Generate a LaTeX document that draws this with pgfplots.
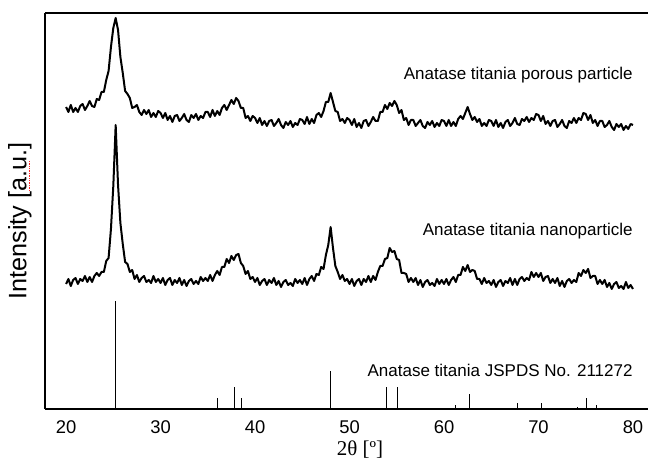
\documentclass[border=0pt]{standalone}
\usepackage{pgfplots}
\pgfplotsset{compat=1.18}
\usepackage{fontspec}
\setmainfont{Liberation Sans}
\newfontfamily\seriffont{Liberation Serif}
\begin{document}
\begin{tikzpicture}
\begin{axis}[name=ax, scale only axis, width=301.5pt, height=198pt,
  xmin=17.77, xmax=81.59, ymin=0, ymax=396,
  axis x line=box, axis y line=left,
  axis line style={-, line width=0.7pt, black},
  xtick={20,30,...,80}, ytick=\empty,
  major tick length=0pt, xtick style={draw=none},
  tick label style={font=\fontsize{9.2}{10}\selectfont},
  /pgf/number format/assume math mode=true,
  xticklabel style={yshift=-2.5pt},
  xlabel={\seriffont 2θ [º]},
  xlabel style={at={(axis cs:51.1,0)}, anchor=center, yshift=-20.5pt, font=\fontsize{10.5}{12}\selectfont},
  ylabel={Intensity [\rlap{\raisebox{-1.8pt}{\textcolor{red!85}{\leaders\hbox to 1.2pt{\hss\rule{0.7pt}{0.6pt}\hss}\hskip 16pt}}}a.u.]},
  ylabel style={at={(axis cs:15.12,188)}, anchor=center, font=\fontsize{12.6}{14}\selectfont},
  clip=false]
\addplot[black, line width=1pt, line join=round] coordinates {
(20,302)(20.25,297)(20.5,304)(20.75,297)(21,301)(21.25,297)(21.5,303)(21.75,305)(22,299)(22.25,303)
(22.5,308)(22.75,303)(23,302)(23.25,310)(23.5,309)(23.75,317)(24,317)(24.25,329)(24.5,338)(24.75,362)
(25,381)(25.25,391)(25.5,379)(25.75,352)(26,336)(26.25,318)(26.5,315)(26.75,311)(27,301)(27.25,302)
(27.5,304)(27.75,297)(28,294)(28.25,299)(28.5,295)(28.75,299)(29,292)(29.25,296)(29.5,292)(29.75,298)
(30,296)(30.25,291)(30.5,296)(30.75,289)(31,293)(31.25,287)(31.5,293)(31.75,294)(32,288)(32.25,291)
(32.5,295)(32.75,289)(33,287)(33.25,294)(33.5,291)(33.75,295)(34,289)(34.25,293)(34.5,291)(34.75,297)
(35,297)(35.25,292)(35.5,299)(35.75,293)(36,298)(36.25,294)(36.5,301)(36.75,304)(37,299)(37.25,304)
(37.5,309)(37.75,305)(38,311)(38.25,308)(38.5,301)(38.75,301)(39,291)(39.25,293)(39.5,288)(39.75,293)
(40,291)(40.25,286)(40.5,291)(40.75,284)(41,288)(41.25,283)(41.5,288)(41.75,289)(42,283)(42.25,286)
(42.5,290)(42.75,284)(43,281)(43.25,287)(43.5,284)(43.75,288)(44,282)(44.25,286)(44.5,284)(44.75,290)
(45,289)(45.25,285)(45.5,292)(45.75,285)(46,290)(46.25,286)(46.5,294)(46.75,296)(47,292)(47.25,298)
(47.5,307)(47.75,307)(48,316)(48.25,307)(48.5,298)(48.75,297)(49,288)(49.25,290)(49.5,286)(49.75,291)
(50,289)(50.25,284)(50.5,290)(50.75,282)(51,286)(51.25,281)(51.5,288)(51.75,289)(52,283)(52.25,287)
(52.5,292)(52.75,288)(53,288)(53.25,297)(53.5,297)(53.75,304)(54,300)(54.25,306)(54.5,303)(54.75,308)
(55,304)(55.25,296)(55.5,299)(55.75,289)(56,291)(56.25,284)(56.5,289)(56.75,289)(57,283)(57.25,286)
(57.5,289)(57.75,283)(58,281)(58.25,287)(58.5,284)(58.75,288)(59,282)(59.25,286)(59.5,283)(59.75,289)
(60,288)(60.25,283)(60.5,289)(60.75,283)(61,287)(61.25,283)(61.5,290)(61.75,293)(62,290)(62.25,296)
(62.5,302)(62.75,295)(63,289)(63.25,292)(63.5,287)(63.75,290)(64,283)(64.25,286)(64.5,283)(64.75,289)
(65,288)(65.25,283)(65.5,289)(65.75,282)(66,286)(66.25,281)(66.5,287)(66.75,289)(67,283)(67.25,286)
(67.5,291)(67.75,285)(68,284)(68.25,290)(68.5,288)(68.75,292)(69,287)(69.25,291)(69.5,289)(69.75,295)
(70,294)(70.25,288)(70.5,293)(70.75,285)(71,288)(71.25,283)(71.5,288)(71.75,289)(72,282)(72.25,285)
(72.5,289)(72.75,283)(73,281)(73.25,288)(73.5,286)(73.75,291)(74,286)(74.25,291)(74.5,289)(74.75,296)
(75,295)(75.25,289)(75.5,294)(75.75,286)(76,289)(76.25,283)(76.5,288)(76.75,288)(77,282)(77.25,284)
(77.5,288)(77.75,282)(78,279)(78.25,285)(78.5,282)(78.75,285)(79,279)(79.25,283)(79.5,280)(79.75,285)
(80,284)};
\addplot[black, line width=1pt, line join=round] coordinates {
(20,125)(20.25,130)(20.5,123)(20.75,129)(21,131)(21.25,125)(21.5,130)(21.75,128)(22,133)(22.25,127)
(22.5,132)(22.75,127)(23,133)(23.25,136)(23.5,133)(23.75,137)(24,137)(24.25,148)(24.5,151)(24.75,180)
(25,223)(25.25,284)(25.5,224)(25.75,186)(26,165)(26.25,147)(26.5,145)(26.75,137)(27,139)(27.25,130)
(27.5,134)(27.75,127)(28,131)(28.25,133)(28.5,127)(28.75,129)(29,126)(29.25,133)(29.5,127)(29.75,130)
(30,126)(30.25,131)(30.5,124)(30.75,129)(31,131)(31.25,124)(31.5,129)(31.75,126)(32,131)(32.25,124)
(32.5,129)(32.75,123)(33,128)(33.25,130)(33.5,125)(33.75,128)(34,125)(34.25,132)(34.5,128)(34.75,131)
(35,128)(35.25,134)(35.5,128)(35.75,134)(36,138)(36.25,134)(36.5,142)(36.75,142)(37,150)(37.25,146)
(37.5,153)(37.75,149)(38,154)(38.25,155)(38.5,146)(38.75,143)(39,135)(39.25,138)(39.5,130)(39.75,132)
(40,127)(40.25,131)(40.5,124)(40.75,128)(41,130)(41.25,124)(41.5,129)(41.75,126)(42,131)(42.25,124)
(42.5,128)(42.75,122)(43,127)(43.25,129)(43.5,124)(43.75,126)(44,123)(44.25,130)(44.5,126)(44.75,129)
(45,125)(45.25,131)(45.5,124)(45.75,130)(46,133)(46.25,128)(46.5,135)(46.75,134)(47,142)(47.25,140)
(47.5,154)(47.75,164)(48,182)(48.25,161)(48.5,143)(48.75,137)(49,130)(49.25,134)(49.5,128)(49.75,130)
(50,125)(50.25,130)(50.5,123)(50.75,128)(51,130)(51.25,124)(51.5,130)(51.75,127)(52,133)(52.25,127)
(52.5,133)(52.75,129)(53,137)(53.25,143)(53.5,143)(53.75,150)(54,151)(54.25,161)(54.5,157)(54.75,158)
(55,150)(55.25,149)(55.5,136)(55.75,136)(56,135)(56.25,127)(56.5,131)(56.75,127)(57,131)(57.25,124)
(57.5,129)(57.75,122)(58,127)(58.25,129)(58.5,124)(58.75,126)(59,123)(59.25,130)(59.5,125)(59.75,129)
(60,125)(60.25,130)(60.5,124)(60.75,129)(61,132)(61.25,127)(61.5,134)(61.75,134)(62,142)(62.25,138)
(62.5,144)(62.75,137)(63,139)(63.25,138)(63.5,130)(63.75,130)(64,125)(64.25,131)(64.5,126)(64.75,128)
(65,124)(65.25,129)(65.5,122)(65.75,127)(66,129)(66.25,123)(66.5,128)(66.75,126)(67,131)(67.25,124)
(67.5,130)(67.75,124)(68,130)(68.25,132)(68.5,128)(68.75,131)(69,129)(69.25,137)(69.5,132)(69.75,136)
(70,132)(70.25,136)(70.5,128)(70.75,132)(71,133)(71.25,126)(71.5,130)(71.75,126)(72,131)(72.25,123)
(72.5,128)(72.75,122)(73,128)(73.25,130)(73.5,126)(73.75,129)(74,127)(74.25,136)(74.5,133)(74.75,139)
(75,136)(75.25,140)(75.5,131)(75.75,133)(76,133)(76.25,125)(76.5,129)(76.75,125)(77,129)(77.25,122)
(77.5,126)(77.75,120)(78,125)(78.25,127)(78.5,121)(78.75,123)(79,120)(79.25,127)(79.5,121)(79.75,124)
(80,120)};
\addplot[ycomb, black, line width=0.5pt, mark=none] coordinates {
(25.25,107.7)(36.0,11)(37.8,22)(38.6,11)(48.0,37.7)(53.9,22)(55.1,22)(61.2,4)(62.7,15)(67.8,6)(70.3,6)(74.1,2)(75.1,11)(76.1,4)};
\node[anchor=east, inner sep=0pt, font=\fontsize{8.5}{10}\selectfont] at (axis cs:80,334) {Anatase titania porous particle};
\node[anchor=east, inner sep=0pt, font=\fontsize{8.5}{10}\selectfont] at (axis cs:80,178) {Anatase titania nanoparticle};
\node[anchor=east, inner sep=0pt, font=\fontsize{8.5}{10}\selectfont] at (axis cs:80,39) {Anatase titania JSPDS No. 211272};
\end{axis}
\pgfresetboundingbox
\path[use as bounding box] ([xshift=-22.5pt,yshift=-24.5pt]ax.south west) rectangle ([yshift=6.5pt]ax.north east);
\end{tikzpicture}
\end{document}
